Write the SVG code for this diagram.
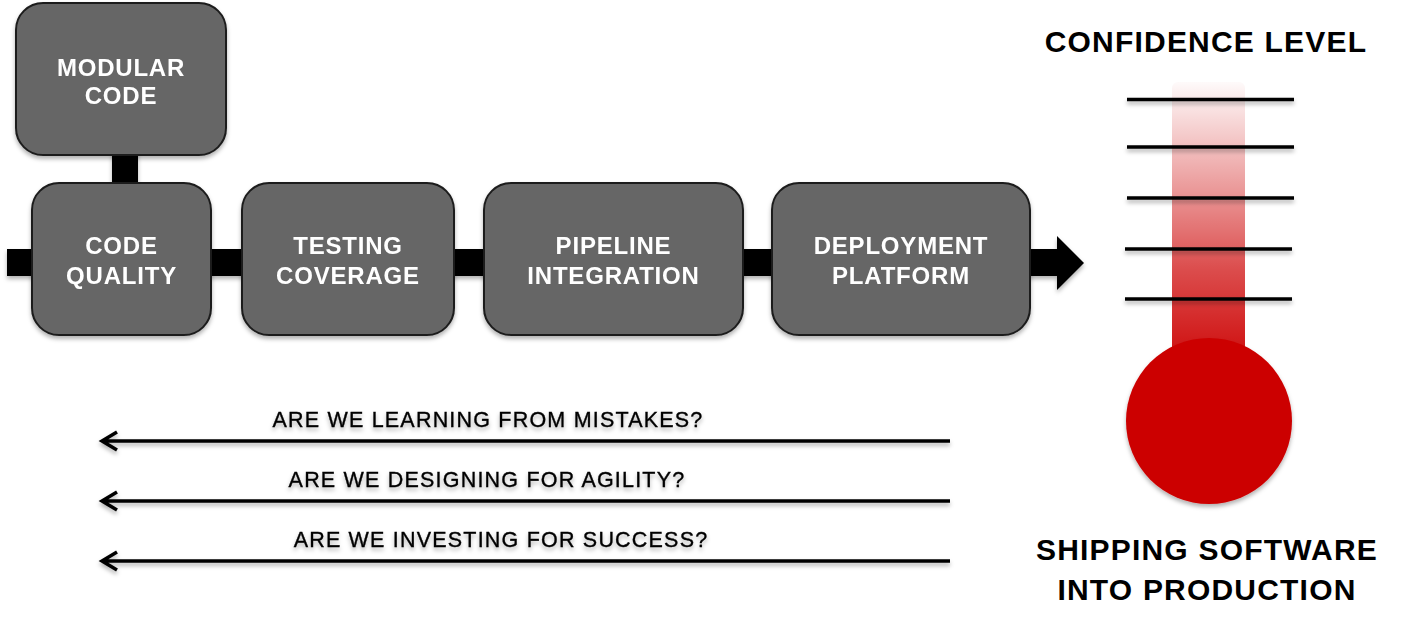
<svg xmlns="http://www.w3.org/2000/svg" width="1401" height="623" viewBox="0 0 1401 623">
<defs>
<style>
.box{fill:#666666;stroke:#1c1c1c;stroke-width:2}
.bt{font-family:"Liberation Sans",Arial,sans-serif;font-weight:bold;font-size:24px;fill:#ffffff;text-anchor:middle;letter-spacing:0.8px}
.q{font-family:"Liberation Sans",Arial,sans-serif;font-size:21.5px;fill:#000000;stroke:#000000;stroke-width:0.35;text-anchor:middle;letter-spacing:1.2px}
.big{font-family:"Liberation Sans",Arial,sans-serif;font-weight:bold;font-size:30px;fill:#000000;text-anchor:middle;letter-spacing:1.2px}
.tick{stroke:#000000;stroke-width:3.5}
.back{fill:none;stroke:#000000;stroke-width:3.5}
</style>
<filter id="sh" x="-10%" y="-10%" width="120%" height="130%">
<feDropShadow dx="0" dy="3" stdDeviation="2" flood-color="#000000" flood-opacity="0.3"/>
</filter>
<linearGradient id="tube" x1="0" y1="82" x2="0" y2="350" gradientUnits="userSpaceOnUse">
<stop offset="0" stop-color="#cc0000" stop-opacity="0.02"/>
<stop offset="0.35" stop-color="#cc0000" stop-opacity="0.35"/>
<stop offset="0.7" stop-color="#cc0000" stop-opacity="0.7"/>
<stop offset="1" stop-color="#cc0000" stop-opacity="0.92"/>
</linearGradient>
</defs>

<g id="connectors" filter="url(#sh)">
<rect x="112" y="150" width="26" height="38" fill="#000000"/>
<rect x="7" y="249" width="1054" height="27" fill="#000000"/>
<polygon points="1057,236 1084,263 1057,290" fill="#000000"/>
</g>

<g id="modular-code" filter="url(#sh)">
<rect class="box" x="16" y="3" width="210" height="152" rx="27"/>
<text class="bt" x="121" y="76">MODULAR</text>
<text class="bt" x="121" y="104">CODE</text>
</g>
<g id="code-quality" filter="url(#sh)">
<rect class="box" x="32" y="183" width="179" height="152" rx="27"/>
<text class="bt" x="121.5" y="254">CODE</text>
<text class="bt" x="121.5" y="284">QUALITY</text>
</g>
<g id="testing-coverage" filter="url(#sh)">
<rect class="box" x="242" y="183" width="212" height="152" rx="27"/>
<text class="bt" x="348" y="254">TESTING</text>
<text class="bt" x="348" y="284">COVERAGE</text>
</g>
<g id="pipeline-integration" filter="url(#sh)">
<rect class="box" x="484" y="183" width="259" height="152" rx="27"/>
<text class="bt" x="613.5" y="254">PIPELINE</text>
<text class="bt" x="613.5" y="284">INTEGRATION</text>
</g>
<g id="deployment-platform" filter="url(#sh)">
<rect class="box" x="772" y="183" width="258" height="152" rx="27"/>
<text class="bt" x="901" y="254">DEPLOYMENT</text>
<text class="bt" x="901" y="284">PLATFORM</text>
</g>

<g id="thermometer">
<text class="big" x="1206" y="52">CONFIDENCE LEVEL</text>
<rect x="1172" y="82" width="73" height="290" rx="6" fill="url(#tube)"/>
<circle cx="1209" cy="421" r="83" fill="#cc0000" filter="url(#sh)"/>
<g filter="url(#sh)">
<line class="tick" x1="1127" y1="99.5" x2="1294" y2="99.5"/>
<line class="tick" x1="1127" y1="147" x2="1294" y2="147"/>
<line class="tick" x1="1127" y1="198" x2="1294" y2="198"/>
<line class="tick" x1="1125" y1="249" x2="1292" y2="249"/>
<line class="tick" x1="1125" y1="299" x2="1292" y2="299"/>
</g>
<text class="big" x="1207" y="560">SHIPPING SOFTWARE</text>
<text class="big" x="1207" y="600">INTO PRODUCTION</text>
</g>

<g id="feedback" filter="url(#sh)">
<path class="back" d="M950,441 H103 M117,432 L102,441 L117,450"/>
<path class="back" d="M950,501 H103 M117,492 L102,501 L117,510"/>
<path class="back" d="M950,561 H103 M117,552 L102,561 L117,570"/>
<text class="q" x="488" y="427">ARE WE LEARNING FROM MISTAKES?</text>
<text class="q" x="487" y="487">ARE WE DESIGNING FOR AGILITY?</text>
<text class="q" x="501" y="547">ARE WE INVESTING FOR SUCCESS?</text>
</g>
</svg>
